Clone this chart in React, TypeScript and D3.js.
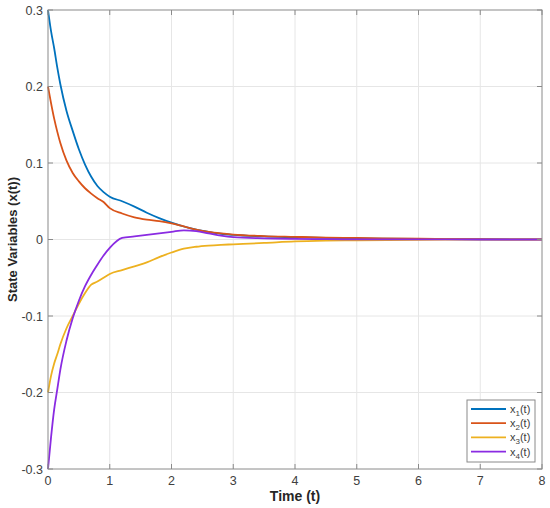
import { useEffect, useRef } from "react";
import * as d3 from "d3";

const time = [0, 0.05, 0.1, 0.15, 0.2, 0.3, 0.4, 0.5, 0.6, 0.7, 0.8, 0.9, 1.0, 1.2, 1.4, 1.6, 1.8, 2.0, 2.2, 2.4, 2.6, 2.8, 3.0, 3.5, 4, 4.5, 5, 6, 7, 8];

const x1 = [0.3, 0.272, 0.25, 0.225, 0.203, 0.168, 0.142, 0.118, 0.098, 0.082, 0.07, 0.062, 0.056, 0.05, 0.043, 0.035, 0.028, 0.022, 0.017, 0.013, 0.01, 0.0075, 0.006, 0.004, 0.003, 0.002, 0.0015, 0.0007, 0.0003, 0.0001];
const x2 = [0.2, 0.178, 0.158, 0.141, 0.126, 0.103, 0.087, 0.076, 0.067, 0.06, 0.054, 0.049, 0.041, 0.034, 0.029, 0.026, 0.024, 0.021, 0.017, 0.013, 0.01, 0.008, 0.0065, 0.0045, 0.0035, 0.0025, 0.002, 0.001, 0.0004, 0.0002];
const x3 = [-0.2, -0.178, -0.162, -0.15, -0.137, -0.116, -0.1, -0.084, -0.07, -0.059, -0.055, -0.05, -0.045, -0.04, -0.035, -0.03, -0.023, -0.017, -0.012, -0.0095, -0.008, -0.007, -0.0063, -0.0045, -0.0025, -0.0015, -0.001, -0.0004, -0.0001, 0];
const x4 = [-0.3, -0.258, -0.222, -0.196, -0.17, -0.132, -0.103, -0.08, -0.061, -0.046, -0.033, -0.021, -0.011, 0.002, 0.004, 0.006, 0.008, 0.01, 0.012, 0.011, 0.008, 0.005, 0.003, 0.0015, 0.0008, 0.0004, 0.0002, 0.0001, 0, 0];

const xTicks = [0, 1, 2, 3, 4, 5, 6, 7, 8];
const yTicks = [-0.3, -0.2, -0.1, 0, 0.1, 0.2, 0.3];

const series = [
  { name: "1", values: x1, color: "#0072BD" },
  { name: "2", values: x2, color: "#D95319" },
  { name: "3", values: x3, color: "#EDB120" },
  { name: "4", values: x4, color: "#8A2BE2" },
];

export default function App() {
  const svgRef = useRef<SVGSVGElement>(null);

  useEffect(() => {
    if (!svgRef.current) return;
    const svg = d3.select(svgRef.current);
    svg.selectAll("*").remove();

    const left = 48, right = 542, top = 10, bottom = 469;
    const x = d3.scaleLinear().domain([0, 8]).range([left, right]);
    const y = d3.scaleLinear().domain([-0.3, 0.3]).range([bottom, top]);
    const font = "Arial, 'Liberation Sans', sans-serif";

    svg.append("rect").attr("x", left).attr("y", top).attr("width", right - left).attr("height", bottom - top).attr("fill", "white");

    // grid
    svg.append("g").selectAll("line").data(xTicks.slice(1, -1)).enter().append("line")
      .attr("x1", (d) => x(d)).attr("x2", (d) => x(d)).attr("y1", top).attr("y2", bottom)
      .attr("stroke", "#e6e6e6").attr("stroke-width", 1);
    svg.append("g").selectAll("line").data(yTicks.slice(1, -1)).enter().append("line")
      .attr("y1", (d) => y(d)).attr("y2", (d) => y(d)).attr("x1", left).attr("x2", right)
      .attr("stroke", "#e6e6e6").attr("stroke-width", 1);

    // lines
    const line = d3.line<number>()
      .x((_, i) => x(time[i]))
      .y((d) => y(d))
      .curve(d3.curveMonotoneX);
    series.forEach((s) => {
      svg.append("path").attr("d", line(s.values)).attr("fill", "none")
        .attr("stroke", s.color).attr("stroke-width", 1.8);
    });

    // box
    svg.append("rect").attr("x", left).attr("y", top).attr("width", right - left).attr("height", bottom - top)
      .attr("fill", "none").attr("stroke", "#8a8a8a").attr("stroke-width", 1);

    // ticks (inside)
    const tk = svg.append("g").attr("stroke", "#8a8a8a");
    xTicks.forEach((t) => {
      tk.append("line").attr("x1", x(t)).attr("x2", x(t)).attr("y1", bottom).attr("y2", bottom - 5);
      tk.append("line").attr("x1", x(t)).attr("x2", x(t)).attr("y1", top).attr("y2", top + 5);
    });
    yTicks.forEach((t) => {
      tk.append("line").attr("y1", y(t)).attr("y2", y(t)).attr("x1", left).attr("x2", left + 5);
      tk.append("line").attr("y1", y(t)).attr("y2", y(t)).attr("x1", right).attr("x2", right - 5);
    });

    svg.append("g").selectAll("text").data(xTicks).enter().append("text")
      .attr("x", (d) => x(d)).attr("y", bottom + 16).attr("text-anchor", "middle")
      .attr("font-family", font).attr("font-size", 12.5).attr("fill", "#404040").text((d) => String(d));
    svg.append("g").selectAll("text").data(yTicks).enter().append("text")
      .attr("x", left - 5).attr("y", (d) => y(d) + 4.5).attr("text-anchor", "end")
      .attr("font-family", font).attr("font-size", 12.5).attr("fill", "#404040").text((d) => String(d));

    svg.append("text").attr("x", (left + right) / 2).attr("y", 501).attr("text-anchor", "middle")
      .attr("font-family", font).attr("font-size", 14).attr("font-weight", "bold").attr("fill", "#262626").text("Time (t)");
    svg.append("text").attr("transform", `translate(17,${(top + bottom) / 2}) rotate(-90)`).attr("text-anchor", "middle")
      .attr("font-family", font).attr("font-size", 13).attr("font-weight", "bold").attr("fill", "#262626").text("State Variables (x(t))");

    // legend
    const lg = svg.append("g");
    lg.append("rect").attr("x", 467).attr("y", 400).attr("width", 68).attr("height", 62)
      .attr("fill", "white").attr("stroke", "#8a8a8a").attr("stroke-width", 1);
    series.forEach((s, i) => {
      const yy = 409 + i * 14.2;
      lg.append("line").attr("x1", 471).attr("x2", 506).attr("y1", yy).attr("y2", yy)
        .attr("stroke", s.color).attr("stroke-width", 1.8);
      const t = lg.append("text").attr("x", 510).attr("y", yy + 4).attr("font-family", font)
        .attr("font-size", 11).attr("fill", "#404040");
      t.append("tspan").text("x");
      t.append("tspan").attr("font-size", 8).attr("dy", 3).text(s.name);
      t.append("tspan").attr("dy", -3).text("(t)");
    });
  }, []);

  return (
    <div style={{ position: "absolute", left: 0, top: 0 }}>
      <svg ref={svgRef} width={550} height={508} style={{ display: "block" }} />
    </div>
  );
}
